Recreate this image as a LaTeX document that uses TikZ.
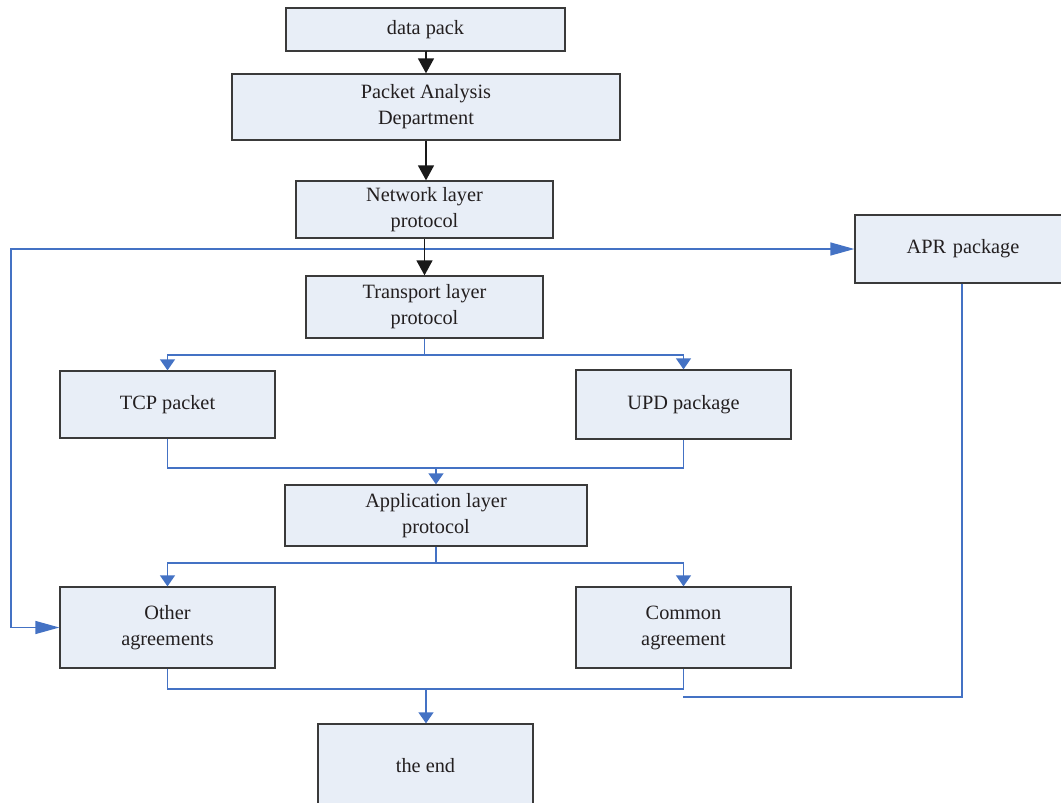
\documentclass[tikz,border=0pt]{standalone}
\usepackage{fontspec}
\setmainfont{Liberation Serif}
\usetikzlibrary{arrows.meta}
\definecolor{boxfill}{HTML}{E8EEF7}
\definecolor{boxline}{HTML}{3A3A3A}
\definecolor{flowblue}{HTML}{4472C4}
\definecolor{txt}{HTML}{231F20}
\begin{document}
\begin{tikzpicture}[x=1pt,y=-1pt,
  box/.style={draw=boxline,fill=boxfill,line width=1.3pt,align=center,inner sep=0pt,
    text=txt,font=\fontsize{20.3}{26}\selectfont},
  blackflow/.style={draw=black!90,line width=1.5pt,-{Triangle[width=16pt,length=15pt]}},
  blueline/.style={draw=flowblue,line width=1.3pt},
  blueflow/.style={blueline,-{Triangle[width=15pt,length=11pt]}},
  bluelong/.style={blueline,{Triangle[width=13pt,length=24pt]}-{Triangle[width=13pt,length=24pt]}}]
\useasboundingbox (0,0) rectangle (1061,803);

% boxes
\node[box,minimum width=279pt,minimum height=43pt] (data) at (425.5,29.5) {data pack};
\node[box,minimum width=388pt,minimum height=66pt] (pad) at (426,107) {Packet Analysis\\Department};
\node[box,minimum width=257pt,minimum height=57pt] (net) at (424.5,209.5) {Network layer\\protocol};
\node[box,minimum width=260pt,minimum height=68pt,text width=260pt] (apr) at (985,249) {\hspace*{-44pt}APR package};
\node[box,minimum width=237pt,minimum height=62pt] (tr) at (424.5,307) {Transport layer\\protocol};
\node[box,minimum width=215pt,minimum height=67pt] (tcp) at (167.5,404.5) {TCP packet};
\node[box,minimum width=215pt,minimum height=69pt] (upd) at (683.5,404.5) {UPD package};
\node[box,minimum width=302pt,minimum height=61pt] (app) at (436,515.5) {Application layer\\protocol};
\node[box,minimum width=215pt,minimum height=81pt] (oth) at (167.5,627.5) {Other\\agreements};
\node[box,minimum width=215pt,minimum height=81pt] (com) at (683.5,627.5) {Common\\agreement};
\node[box,minimum width=215pt,minimum height=112pt,text depth=0pt] (end) at (425.5,780) {\raisebox{29pt}{the end}};

% junction points
\coordinate (lc) at (11,249);
\coordinate (s1) at (424.5,355);
\coordinate (m1) at (436,468);
\coordinate (s2) at (436,563);
\coordinate (m2) at (426,689);
\coordinate (aprx) at (962,283);
\coordinate (ar) at (683,697);

% side route to the APR package and the other agreements
\draw[bluelong] (oth.west) -| (lc) -- (apr.west);

% main chain
\draw[blackflow] (data) -- (pad.south |- data.south) -- (pad.north);
\draw[blackflow] (pad.south) -- (pad.south |- net.north);
\draw[blackflow] (net.south) -- (net.south |- tr.north);

% transport split
\draw[blueline] (tr.south) -- (s1);
\draw[blueflow] (s1) -| (tcp.north);
\draw[blueflow] (s1) -| (upd.north);

% merge into application layer
\draw[blueline] (tcp.south) |- (m1) -| (upd.south);
\draw[blueflow] (m1) -- (m1 |- app.north);

% application split
\draw[blueline] (app.south -| s2) -- (s2);
\draw[blueflow] (s2) -| (oth.north);
\draw[blueflow] (s2) -| (com.north);

% merge into the end
\draw[blueline] (oth.south) |- (m2) -| (com.south);
\draw[blueflow] (m2) -- (m2 |- end.north);

% APR package return line
\draw[blueline] (apr.south -| aprx) |- (ar);
\end{tikzpicture}
\end{document}
